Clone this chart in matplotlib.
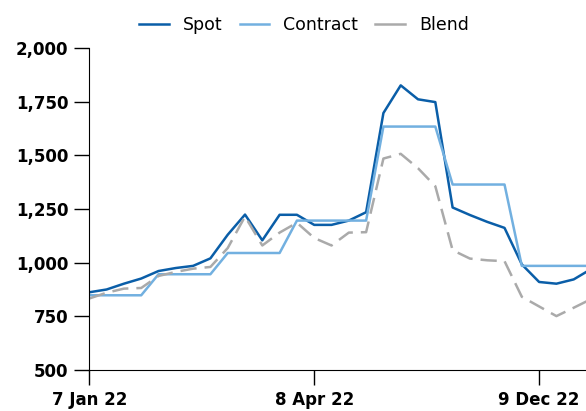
import numpy as np
import matplotlib.pyplot as plt
from matplotlib.ticker import FuncFormatter
from matplotlib.lines import Line2D

# Datos semanales (indice 0 = 7 Jan 22)
spot = [862, 875, 902, 926, 961, 975, 985, 1020, 1130, 1224,
        1104, 1223, 1223, 1176, 1176, 1196, 1235, 1697, 1826, 1761,
        1748, 1257, 1222, 1190, 1162, 992, 910, 902, 922, 970]
contract = [848, 848, 848, 848, 946, 946, 946, 946, 1045, 1045,
            1045, 1045, 1196, 1196, 1196, 1196, 1196, 1634, 1634, 1634,
            1634, 1364, 1364, 1364, 1364, 985, 985, 985, 985, 985]
blend = [833, 860, 879, 882, 938, 957, 972, 980, 1068, 1215,
         1080, 1140, 1186, 1115, 1080, 1140, 1142, 1485, 1507, 1440,
         1356, 1058, 1019, 1011, 1007, 841, 796, 751, 790, 830]

etiquetas_x = ['7 Jan 22', '8 Apr 22', '9 Dec 22']
pos_x = [0, 13, 26]
ticks_y = [500, 750, 1000, 1250, 1500, 1750, 2000]

colores = ['#0a5ea8', '#72b0e0', '#aaaaaa']
nombres = ['Spot', 'Contract', 'Blend']

x = np.arange(len(spot))

plt.rcParams['font.family'] = 'DejaVu Sans'

fig = plt.figure(figsize=(5.86, 4.11), dpi=100)
ax = fig.add_axes([0.1524, 0.0998, 0.8476, 0.7834])

ax.plot(x, spot, color=colores[0], lw=1.8)
ax.plot(x, contract, color=colores[1], lw=1.8)
ax.plot(x, blend, color=colores[2], lw=1.8, dashes=(6.5, 3.2))

ax.set_xlim(0, 28.71)
ax.set_ylim(500, 2000)

ax.set_xticks(pos_x)
ax.set_xticklabels(etiquetas_x, fontsize=12, fontweight='bold')
ax.set_yticks(ticks_y)
ax.yaxis.set_major_formatter(FuncFormatter(lambda v, p: '{:,.0f}'.format(v)))
for lab in ax.get_yticklabels():
    lab.set_fontsize(12)
    lab.set_fontweight('bold')

ax.tick_params(axis='both', length=11, width=1, color='black', pad=4)
ax.spines['top'].set_visible(False)
ax.spines['right'].set_visible(False)

# Leyenda arriba, sin marco (todas con linea continua)
handles = [Line2D([], [], color=c, lw=1.8) for c in colores]
fig.legend(handles, nombres, loc='center', bbox_to_anchor=(304 / 586, 1 - 25 / 411),
           ncol=3, frameon=False, fontsize=12.5, handlelength=1.7,
           handletextpad=0.8, columnspacing=1.0)

fig.savefig('out.png', dpi=100)
